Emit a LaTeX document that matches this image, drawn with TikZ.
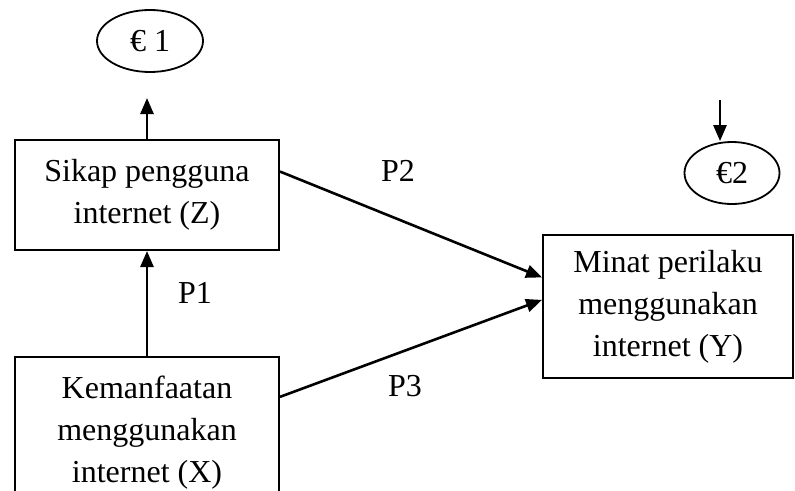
\documentclass[tikz,border=0pt]{standalone}
\usepackage{fontspec}
\setmainfont{Liberation Serif}
\usepackage{tikz}
\usetikzlibrary{arrows.meta,calc,shapes,positioning}
\tikzset{VAR style/.style={draw,line width=2pt,align=center,font=\fontsize{32}{42}\selectfont},
	ERR style/.style={draw,ellipse,line width=1.8pt,inner sep=0pt,font=\fontsize{32}{36}\selectfont},
	LBL style/.style={fill=white,inner sep=0pt,font=\fontsize{32}{36}\selectfont},
	PATH style/.style={line width=2.6pt,-{Triangle[length=16pt,width=13pt]}}}

\begin{document}
\begin{tikzpicture}[x=1pt,y=-1pt]
		\useasboundingbox[fill=white] (0,0) rectangle (795,490);
		
		\node[VAR style,minimum width=264,minimum height=110] (Z) at (147,195) {Sikap pengguna\\internet (Z)};
		\node[VAR style,minimum width=264,minimum height=151] (X) at (147,432.5) {Kemanfaatan\\menggunakan\\internet (X)};
		\node[VAR style,minimum width=250,minimum height=143] (Y) at (668,306.5) {Minat perilaku\\menggunakan\\internet (Y)};
		
		\node[ERR style,minimum width=106,minimum height=62] (e1) at (150,41) {€ 1};
		\node[ERR style,minimum width=95,minimum height=62] (e2) at (732,173) {€2};
		
		\coordinate (e1in) at (147,98);
		\coordinate (e2src) at (720,100);
		
		\node[LBL style,minimum width=66,minimum height=52] (p1) at (195,277) {};
		\node[LBL style] at (195,293) {P1};
		\node[LBL style,minimum width=83,minimum height=55] (p2) at (398,170.5) {P2};
		\node[LBL style] (p3) at (405,386) {P3};
		
		\draw[PATH style] (Z.north) -- (e1in);
		\draw[PATH style] (X.north) -- (Z.south);
		\draw[PATH style] (Z.10.7) -- (Y.167.4);
		\draw[PATH style] (X.15.7) -- (Y.177.3);
		\draw[PATH style] (e2src) -- (e2src |- e2.north);
		
	\end{tikzpicture}
\end{document}
